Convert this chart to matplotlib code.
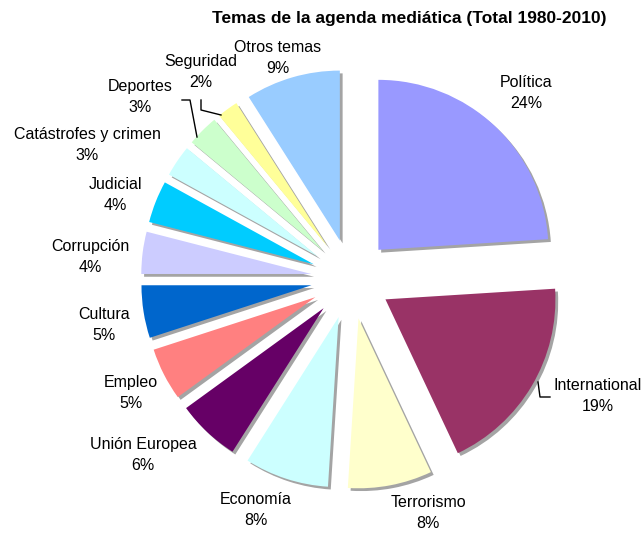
import matplotlib
matplotlib.use('Agg')
import matplotlib.pyplot as plt
import matplotlib.patheffects as pe

plt.rcParams['font.family'] = ['Liberation Sans', 'DejaVu Sans']

# datos
temas = ['Política', 'International', 'Terrorismo', 'Economía', 'Unión Europea',
         'Empleo', 'Cultura', 'Corrupción', 'Judicial', 'Catástrofes y crimen',
         'Deportes', 'Seguridad', 'Otros temas']
porcentajes = [24, 19, 8, 8, 6, 5, 5, 4, 4, 3, 3, 2, 9]
colores = ['#9999FF', '#993366', '#FFFFCC', '#CCFFFF', '#660066', '#FF8080',
           '#0066CC', '#CCCCFF', '#00CCFF', '#CCFFFF', '#CCFFCC', '#FFFF99',
           '#99CCFF']

# posiciones de etiquetas (pixeles, y hacia abajo)
pos_etiquetas = [(526, 93), (598, 396), (428, 513), (256, 510), (143, 455),
                 (131, 393), (104, 325), (90, 257), (115, 195), (87, 145),
                 (140, 97), (201, 72), (278, 58)]
# lineas guia
guias = [[(201, 100), (201, 110), (221, 115)],
         [(182, 100), (190, 100), (197, 137)],
         [(538, 382), (540, 397), (550, 397)]]

W, H = 644, 534
fig = plt.figure(figsize=(W / 100, H / 100), dpi=100)
ax = fig.add_axes([0, 0, 1, 1])

wedges, _ = ax.pie(porcentajes, colors=colores, startangle=90, counterclock=False,
                   center=(351, H - 279), radius=170, explode=[40] * len(porcentajes),
                   wedgeprops=dict(linewidth=0), frame=True)
for w in wedges:
    w.set_path_effects([pe.SimplePatchShadow(offset=(2, -2), shadow_rgbFace='#9a9a9a', alpha=0.9),
                        pe.Normal()])
ax.set_xlim(0, W)
ax.set_ylim(0, H)
ax.set_aspect('equal')
ax.axis('off')

for t, p, (x, y) in zip(temas, porcentajes, pos_etiquetas):
    ax.text(x, H - y, '%s\n%d%%' % (t, p), ha='center', va='center', fontsize=11.5,
            linespacing=1.45)

for g in guias:
    ax.plot([p[0] for p in g], [H - p[1] for p in g], color='black', lw=1)

fig.text(409 / W, 1 - 18 / H, 'Temas de la agenda mediática (Total 1980-2010)',
         ha='center', va='center', fontsize=12.5, fontweight='bold')

fig.savefig('out.png', dpi=100)
